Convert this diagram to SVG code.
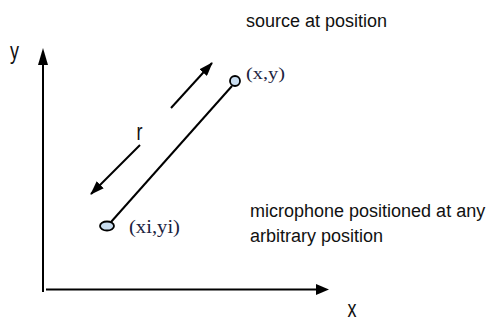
<svg xmlns="http://www.w3.org/2000/svg" width="493" height="320" viewBox="0 0 493 320">
<style>
.lbl{font-family:"Liberation Sans",Arial,sans-serif;font-size:18px;fill:#111}
.coord{font-family:"Liberation Serif","Times New Roman",serif;fill:#1c2340}
.ln{stroke:#000;stroke-width:2;fill:none}
.pt{fill:#c9ddf0;stroke:#000;stroke-width:1.8}
</style>
<defs>
<marker id="ah" viewBox="0 0 14 10" refX="13" refY="5" markerWidth="14" markerHeight="10" markerUnits="userSpaceOnUse" orient="auto">
<path d="M0,0 L14,5 L0,10 Z" fill="#000"/>
</marker>
</defs>
<rect width="493" height="320" fill="#fff"/>
<g id="axes">
<line class="ln" x1="43" y1="292" x2="43" y2="62"/>
<polygon points="43,48 38,65 48,65" fill="#000"/>
<line class="ln" x1="46" y1="289.5" x2="318" y2="289.5"/>
<polygon points="329,289.5 316,284 316,295" fill="#000"/>
<text class="lbl" transform="translate(10,59) scale(1,1.3)">y</text>
<text class="lbl" transform="translate(347.5,317) scale(1,1.3)">x</text>
</g>
<g id="connectors">
<line class="ln" x1="111" y1="222" x2="232" y2="86"/>
<line class="ln" x1="171" y1="108" x2="212" y2="63" marker-end="url(#ah)"/>
<line class="ln" x1="140" y1="145" x2="91" y2="194" marker-end="url(#ah)"/>
<text class="lbl" transform="translate(136.5,140) scale(1,1.35)">r</text>
</g>
<g id="source">
<circle class="pt" cx="235" cy="81" r="5"/>
<text class="coord" x="246" y="78.5" font-size="16.5" textLength="39" lengthAdjust="spacingAndGlyphs">(x,y)</text>
<text class="lbl" x="246" y="27">source at position</text>
</g>
<g id="microphone">
<ellipse class="pt" cx="107" cy="226" rx="7" ry="4.5"/>
<text class="coord" x="129" y="232.5" font-size="18.5" textLength="51" lengthAdjust="spacingAndGlyphs">(xi,yi)</text>
<text class="lbl" x="250" y="217">microphone positioned at any</text>
<text class="lbl" x="250" y="242">arbitrary position</text>
</g>
</svg>
